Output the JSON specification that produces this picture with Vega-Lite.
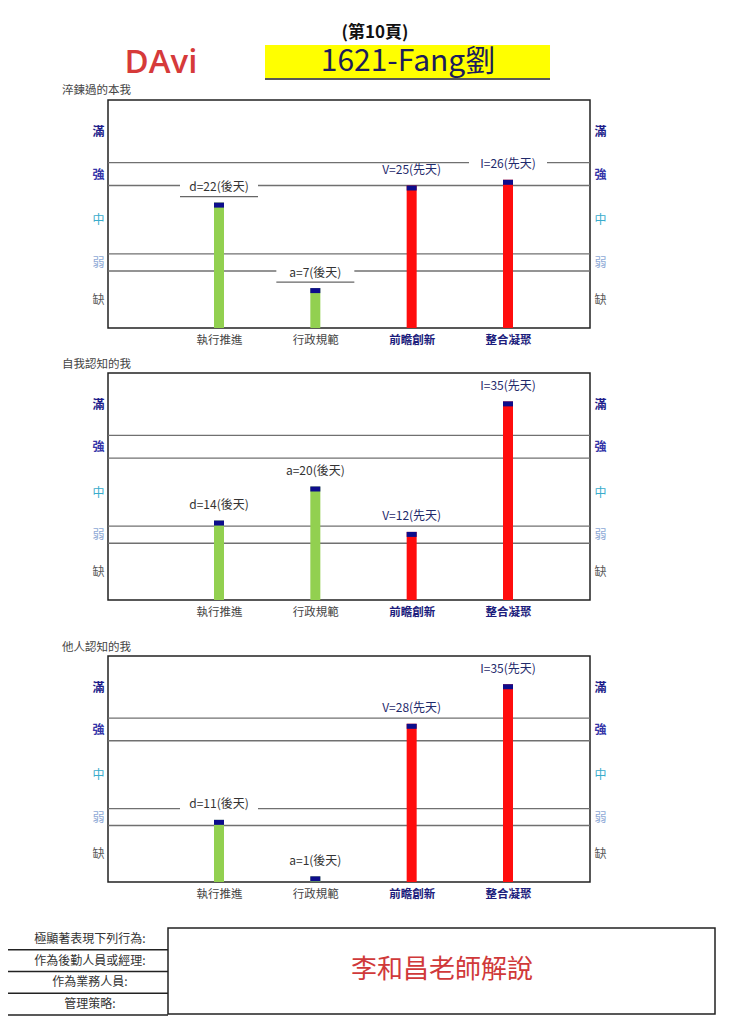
{
  "$schema": "https://vega.github.io/schema/vega-lite/v6.json",
  "padding": 0,
  "autosize": {"type": "pad"},
  "bounds": "flush",
  "spacing": 0,
  "config": {"font": "Noto Sans CJK TC", "view": {"stroke": "#222", "strokeWidth": 1.5}},
  "datasets": {
    "bars": [
      {"panel": 1, "cat": "執行推進", "v": 22, "label": "d=22(後天)", "kind": "後天"},
      {"panel": 1, "cat": "行政規範", "v": 7, "label": "a=7(後天)", "kind": "後天"},
      {"panel": 1, "cat": "前瞻創新", "v": 25, "label": "V=25(先天)", "kind": "先天"},
      {"panel": 1, "cat": "整合凝聚", "v": 26, "label": "I=26(先天)", "kind": "先天"},
      {"panel": 2, "cat": "執行推進", "v": 14, "label": "d=14(後天)", "kind": "後天"},
      {"panel": 2, "cat": "行政規範", "v": 20, "label": "a=20(後天)", "kind": "後天"},
      {"panel": 2, "cat": "前瞻創新", "v": 12, "label": "V=12(先天)", "kind": "先天"},
      {"panel": 2, "cat": "整合凝聚", "v": 35, "label": "I=35(先天)", "kind": "先天"},
      {"panel": 3, "cat": "執行推進", "v": 11, "label": "d=11(後天)", "kind": "後天"},
      {"panel": 3, "cat": "行政規範", "v": 1, "label": "a=1(後天)", "kind": "後天"},
      {"panel": 3, "cat": "前瞻創新", "v": 28, "label": "V=28(先天)", "kind": "先天"},
      {"panel": 3, "cat": "整合凝聚", "v": 35, "label": "I=35(先天)", "kind": "先天"}
    ],
    "levels": [{"t": 10}, {"t": 13}, {"t": 25}, {"t": 29}],
    "rows": [{"row": "極顯著表現下列行為:"}, {"row": "作為後勤人員或經理:"}, {"row": "作為業務人員:"}, {"row": "管理策略:"}],
    "one": [{"note": "李和昌老師解說"}],
    "none": []
  },
  "vconcat": [
    {
      "width": 482, "height": 100, "view": {"stroke": null},
      "data": {"name": "one"},
      "layer": [
        {"mark": {"type": "rect", "fill": "white"}, "encoding": {"x": {"value": -108}, "x2": {"value": 632}, "y": {"value": 0}, "y2": {"value": 1024}}},
        {"mark": {"type": "rect", "fill": "#ffff00"}, "encoding": {"x": {"value": 157}, "x2": {"value": 442}, "y": {"value": 45}, "y2": {"value": 78}}},
        {"mark": {"type": "rule", "stroke": "#222", "strokeWidth": 1.5}, "encoding": {"x": {"value": 157}, "x2": {"value": 442}, "y": {"value": 79}}},
        {"mark": {"type": "text", "text": "(第10頁)", "fontSize": 17, "fontWeight": "bold", "color": "#111", "baseline": "middle"}, "encoding": {"x": {"value": 267}, "y": {"value": 33}}},
        {"mark": {"type": "text", "text": "1621-Fang劉", "fontSize": 30, "fontWeight": "normal", "color": "#1c1c5c", "baseline": "middle"}, "encoding": {"x": {"value": 300}, "y": {"value": 62}}},
        {"mark": {"type": "text", "text": "DAvi", "fontSize": 33, "font": "Open Sans", "fontWeight": 600, "color": "#d63a3a", "baseline": "middle"}, "encoding": {"x": {"value": 53}, "y": {"value": 63}}}
      ]
    },
    {
      "width": 482, "height": 228,
      "title": {"text": "淬鍊過的本我", "anchor": "start", "frame": "group", "dx": -46, "offset": 4, "fontSize": 11.5, "fontWeight": "normal", "color": "#444"},
      "resolve": {"axis": {"x": "independent", "y": "independent"}},
      "layer": [
        {"data": {"name": "levels"}, "mark": {"type": "rule", "stroke": "#707070", "strokeWidth": 1.3},
         "encoding": {"y": {"field": "t", "type": "quantitative", "scale": {"domain": [0, 40]},
           "axis": {"orient": "right", "values": [5, 11.5, 19, 27, 34.5], "title": null, "domain": false, "ticks": false, "grid": false, "labelPadding": 4, "labelFontSize": 12,
             "labelExpr": "datum.value == 34.5 ? '滿' : datum.value == 27 ? '強' : datum.value == 19 ? '中' : datum.value == 11.5 ? '弱' : '缺'",
             "labelColor": {"condition": [{"test": "datum.value == 34.5", "value": "#1c1c8a"}, {"test": "datum.value == 27", "value": "#3535a8"}, {"test": "datum.value == 19", "value": "#3aaccc"}, {"test": "datum.value == 11.5", "value": "#8ea9d6"}], "value": "#555555"},
             "labelFontWeight": {"condition": {"test": "datum.value >= 27", "value": "bold"}, "value": "normal"}}}}},
        {"data": {"name": "bars"}, "transform": [{"filter": "datum.panel == 1"}], "mark": {"type": "bar", "width": 10},
         "encoding": {
           "x": {"field": "cat", "type": "nominal", "sort": null, "scale": {"type": "point", "padding": 0, "domain": ["執行推進", "行政規範", "前瞻創新", "整合凝聚"], "range": [111, 400]},
             "axis": {"title": null, "domain": false, "ticks": false, "grid": false, "labelPadding": 6, "labelFontSize": 11.5, "labelAngle": 0,
               "labelColor": {"condition": {"test": "datum.value == '前瞻創新' || datum.value == '整合凝聚'", "value": "#1c1c7c"}, "value": "#444444"},
               "labelFontWeight": {"condition": {"test": "datum.value == '前瞻創新' || datum.value == '整合凝聚'", "value": "bold"}, "value": "normal"}}},
           "y": {"field": "v", "type": "quantitative", "scale": {"domain": [0, 40]},
             "axis": {"orient": "left", "values": [5, 11.5, 19, 27, 34.5], "title": null, "domain": false, "ticks": false, "grid": false, "labelPadding": 4, "labelFontSize": 12,
               "labelExpr": "datum.value == 34.5 ? '滿' : datum.value == 27 ? '強' : datum.value == 19 ? '中' : datum.value == 11.5 ? '弱' : '缺'",
               "labelColor": {"condition": [{"test": "datum.value == 34.5", "value": "#1c1c8a"}, {"test": "datum.value == 27", "value": "#3535a8"}, {"test": "datum.value == 19", "value": "#3aaccc"}, {"test": "datum.value == 11.5", "value": "#8ea9d6"}], "value": "#555555"},
               "labelFontWeight": {"condition": {"test": "datum.value >= 27", "value": "bold"}, "value": "normal"}}},
           "color": {"field": "kind", "type": "nominal", "scale": {"domain": ["後天", "先天"], "range": ["#92d050", "#ff0d0d"]}, "legend": null}}},
        {"data": {"name": "bars"}, "transform": [{"filter": "datum.panel == 1"}], "mark": {"type": "bar", "width": 78, "fill": "white", "yOffset": -21, "y2Offset": -8},
         "encoding": {"x": {"field": "cat", "type": "nominal", "sort": null, "axis": null}, "y": {"field": "v", "type": "quantitative", "axis": null}, "y2": {"field": "v"}}},
        {"data": {"name": "bars"}, "transform": [{"filter": "datum.panel == 1 && datum.kind == '後天'"}], "mark": {"type": "rule", "stroke": "#666", "strokeWidth": 1.2, "xOffset": -39, "x2Offset": 39, "yOffset": -6},
         "encoding": {"x": {"field": "cat", "type": "nominal", "sort": null, "axis": null}, "x2": {"field": "cat"}, "y": {"field": "v", "type": "quantitative", "axis": null}}},
        {"data": {"name": "bars"}, "transform": [{"filter": "datum.panel == 1"}], "mark": {"type": "text", "fontSize": 12, "dy": -15.5, "baseline": "middle"},
         "encoding": {"x": {"field": "cat", "type": "nominal", "sort": null, "axis": null}, "y": {"field": "v", "type": "quantitative", "axis": null}, "text": {"field": "label"},
           "color": {"condition": {"test": "datum.kind == '先天'", "value": "#1f2a6b"}, "value": "#333333"}}},
        {"data": {"name": "bars"}, "transform": [{"filter": "datum.panel == 1"}], "mark": {"type": "bar", "width": 10, "color": "#0d0d8c", "y2Offset": 5},
         "encoding": {"x": {"field": "cat", "type": "nominal", "sort": null, "axis": null}, "y": {"field": "v", "type": "quantitative", "axis": null}, "y2": {"field": "v"}}}
      ]
    },
    {"width": 482, "height": 45, "view": {"stroke": null}, "data": {"name": "none"}, "mark": "point"},
    {
      "width": 482, "height": 227,
      "title": {"text": "自我認知的我", "anchor": "start", "frame": "group", "dx": -46, "offset": 3, "fontSize": 11.5, "fontWeight": "normal", "color": "#444"},
      "resolve": {"axis": {"x": "independent", "y": "independent"}},
      "layer": [
        {"data": {"name": "levels"}, "mark": {"type": "rule", "stroke": "#707070", "strokeWidth": 1.3},
         "encoding": {"y": {"field": "t", "type": "quantitative", "scale": {"domain": [0, 40]},
           "axis": {"orient": "right", "values": [5, 11.5, 19, 27, 34.5], "title": null, "domain": false, "ticks": false, "grid": false, "labelPadding": 4, "labelFontSize": 12,
             "labelExpr": "datum.value == 34.5 ? '滿' : datum.value == 27 ? '強' : datum.value == 19 ? '中' : datum.value == 11.5 ? '弱' : '缺'",
             "labelColor": {"condition": [{"test": "datum.value == 34.5", "value": "#1c1c8a"}, {"test": "datum.value == 27", "value": "#3535a8"}, {"test": "datum.value == 19", "value": "#3aaccc"}, {"test": "datum.value == 11.5", "value": "#8ea9d6"}], "value": "#555555"},
             "labelFontWeight": {"condition": {"test": "datum.value >= 27", "value": "bold"}, "value": "normal"}}}}},
        {"data": {"name": "bars"}, "transform": [{"filter": "datum.panel == 2"}], "mark": {"type": "bar", "width": 10},
         "encoding": {
           "x": {"field": "cat", "type": "nominal", "sort": null, "scale": {"type": "point", "padding": 0, "domain": ["執行推進", "行政規範", "前瞻創新", "整合凝聚"], "range": [111, 400]},
             "axis": {"title": null, "domain": false, "ticks": false, "grid": false, "labelPadding": 6, "labelFontSize": 11.5, "labelAngle": 0,
               "labelColor": {"condition": {"test": "datum.value == '前瞻創新' || datum.value == '整合凝聚'", "value": "#1c1c7c"}, "value": "#444444"},
               "labelFontWeight": {"condition": {"test": "datum.value == '前瞻創新' || datum.value == '整合凝聚'", "value": "bold"}, "value": "normal"}}},
           "y": {"field": "v", "type": "quantitative", "scale": {"domain": [0, 40]},
             "axis": {"orient": "left", "values": [5, 11.5, 19, 27, 34.5], "title": null, "domain": false, "ticks": false, "grid": false, "labelPadding": 4, "labelFontSize": 12,
               "labelExpr": "datum.value == 34.5 ? '滿' : datum.value == 27 ? '強' : datum.value == 19 ? '中' : datum.value == 11.5 ? '弱' : '缺'",
               "labelColor": {"condition": [{"test": "datum.value == 34.5", "value": "#1c1c8a"}, {"test": "datum.value == 27", "value": "#3535a8"}, {"test": "datum.value == 19", "value": "#3aaccc"}, {"test": "datum.value == 11.5", "value": "#8ea9d6"}], "value": "#555555"},
               "labelFontWeight": {"condition": {"test": "datum.value >= 27", "value": "bold"}, "value": "normal"}}},
           "color": {"field": "kind", "type": "nominal", "scale": {"domain": ["後天", "先天"], "range": ["#92d050", "#ff0d0d"]}, "legend": null}}},
        {"data": {"name": "bars"}, "transform": [{"filter": "datum.panel == 2"}], "mark": {"type": "bar", "width": 78, "fill": "white", "yOffset": -21, "y2Offset": -8},
         "encoding": {"x": {"field": "cat", "type": "nominal", "sort": null, "axis": null}, "y": {"field": "v", "type": "quantitative", "axis": null}, "y2": {"field": "v"}}},
        {"data": {"name": "bars"}, "transform": [{"filter": "datum.panel == 2"}], "mark": {"type": "text", "fontSize": 12, "dy": -15.5, "baseline": "middle"},
         "encoding": {"x": {"field": "cat", "type": "nominal", "sort": null, "axis": null}, "y": {"field": "v", "type": "quantitative", "axis": null}, "text": {"field": "label"},
           "color": {"condition": {"test": "datum.kind == '先天'", "value": "#1f2a6b"}, "value": "#333333"}}},
        {"data": {"name": "bars"}, "transform": [{"filter": "datum.panel == 2"}], "mark": {"type": "bar", "width": 10, "color": "#0d0d8c", "y2Offset": 5},
         "encoding": {"x": {"field": "cat", "type": "nominal", "sort": null, "axis": null}, "y": {"field": "v", "type": "quantitative", "axis": null}, "y2": {"field": "v"}}}
      ]
    },
    {"width": 482, "height": 56, "view": {"stroke": null}, "data": {"name": "none"}, "mark": "point"},
    {
      "width": 482, "height": 226,
      "title": {"text": "他人認知的我", "anchor": "start", "frame": "group", "dx": -46, "offset": 3, "fontSize": 11.5, "fontWeight": "normal", "color": "#444"},
      "resolve": {"axis": {"x": "independent", "y": "independent"}},
      "layer": [
        {"data": {"name": "levels"}, "mark": {"type": "rule", "stroke": "#707070", "strokeWidth": 1.3},
         "encoding": {"y": {"field": "t", "type": "quantitative", "scale": {"domain": [0, 40]},
           "axis": {"orient": "right", "values": [5, 11.5, 19, 27, 34.5], "title": null, "domain": false, "ticks": false, "grid": false, "labelPadding": 4, "labelFontSize": 12,
             "labelExpr": "datum.value == 34.5 ? '滿' : datum.value == 27 ? '強' : datum.value == 19 ? '中' : datum.value == 11.5 ? '弱' : '缺'",
             "labelColor": {"condition": [{"test": "datum.value == 34.5", "value": "#1c1c8a"}, {"test": "datum.value == 27", "value": "#3535a8"}, {"test": "datum.value == 19", "value": "#3aaccc"}, {"test": "datum.value == 11.5", "value": "#8ea9d6"}], "value": "#555555"},
             "labelFontWeight": {"condition": {"test": "datum.value >= 27", "value": "bold"}, "value": "normal"}}}}},
        {"data": {"name": "bars"}, "transform": [{"filter": "datum.panel == 3"}], "mark": {"type": "bar", "width": 10},
         "encoding": {
           "x": {"field": "cat", "type": "nominal", "sort": null, "scale": {"type": "point", "padding": 0, "domain": ["執行推進", "行政規範", "前瞻創新", "整合凝聚"], "range": [111, 400]},
             "axis": {"title": null, "domain": false, "ticks": false, "grid": false, "labelPadding": 6, "labelFontSize": 11.5, "labelAngle": 0,
               "labelColor": {"condition": {"test": "datum.value == '前瞻創新' || datum.value == '整合凝聚'", "value": "#1c1c7c"}, "value": "#444444"},
               "labelFontWeight": {"condition": {"test": "datum.value == '前瞻創新' || datum.value == '整合凝聚'", "value": "bold"}, "value": "normal"}}},
           "y": {"field": "v", "type": "quantitative", "scale": {"domain": [0, 40]},
             "axis": {"orient": "left", "values": [5, 11.5, 19, 27, 34.5], "title": null, "domain": false, "ticks": false, "grid": false, "labelPadding": 4, "labelFontSize": 12,
               "labelExpr": "datum.value == 34.5 ? '滿' : datum.value == 27 ? '強' : datum.value == 19 ? '中' : datum.value == 11.5 ? '弱' : '缺'",
               "labelColor": {"condition": [{"test": "datum.value == 34.5", "value": "#1c1c8a"}, {"test": "datum.value == 27", "value": "#3535a8"}, {"test": "datum.value == 19", "value": "#3aaccc"}, {"test": "datum.value == 11.5", "value": "#8ea9d6"}], "value": "#555555"},
               "labelFontWeight": {"condition": {"test": "datum.value >= 27", "value": "bold"}, "value": "normal"}}},
           "color": {"field": "kind", "type": "nominal", "scale": {"domain": ["後天", "先天"], "range": ["#92d050", "#ff0d0d"]}, "legend": null}}},
        {"data": {"name": "bars"}, "transform": [{"filter": "datum.panel == 3"}], "mark": {"type": "bar", "width": 78, "fill": "white", "yOffset": -21, "y2Offset": -8},
         "encoding": {"x": {"field": "cat", "type": "nominal", "sort": null, "axis": null}, "y": {"field": "v", "type": "quantitative", "axis": null}, "y2": {"field": "v"}}},
        {"data": {"name": "bars"}, "transform": [{"filter": "datum.panel == 3"}], "mark": {"type": "text", "fontSize": 12, "dy": -15.5, "baseline": "middle"},
         "encoding": {"x": {"field": "cat", "type": "nominal", "sort": null, "axis": null}, "y": {"field": "v", "type": "quantitative", "axis": null}, "text": {"field": "label"},
           "color": {"condition": {"test": "datum.kind == '先天'", "value": "#1f2a6b"}, "value": "#333333"}}},
        {"data": {"name": "bars"}, "transform": [{"filter": "datum.panel == 3"}], "mark": {"type": "bar", "width": 10, "color": "#0d0d8c", "y2Offset": 5},
         "encoding": {"x": {"field": "cat", "type": "nominal", "sort": null, "axis": null}, "y": {"field": "v", "type": "quantitative", "axis": null}, "y2": {"field": "v"}}}
      ]
    },
    {"width": 482, "height": 46, "view": {"stroke": null}, "data": {"name": "none"}, "mark": "point"},
    {
      "width": 482, "height": 87, "view": {"stroke": null},
      "layer": [
        {"data": {"name": "one"}, "mark": {"type": "rect", "fill": "transparent", "stroke": "#222", "strokeWidth": 1.5},
         "encoding": {"x": {"value": 60}, "x2": {"value": 607}, "y": {"value": 0}, "y2": {"value": 86}}},
        {"data": {"name": "one"}, "mark": {"type": "text", "fontSize": 26, "color": "#d0393a", "baseline": "middle"},
         "encoding": {"text": {"field": "note"}, "x": {"value": 334}, "y": {"value": 42}}},
        {"data": {"name": "rows"}, "mark": {"type": "text", "fontSize": 12, "color": "#333", "baseline": "middle"},
         "encoding": {"text": {"field": "row"}, "x": {"value": -18}, "y": {"field": "row", "type": "nominal", "sort": null, "scale": {"type": "band", "paddingInner": 0, "paddingOuter": 0}, "axis": null}}},
        {"data": {"name": "rows"}, "mark": {"type": "rule", "stroke": "#222", "strokeWidth": 1.5},
         "encoding": {"x": {"value": -100}, "x2": {"value": 60}, "y": {"field": "row", "type": "nominal", "sort": null, "bandPosition": 1, "axis": null}}}
      ]
    }
  ]
}
